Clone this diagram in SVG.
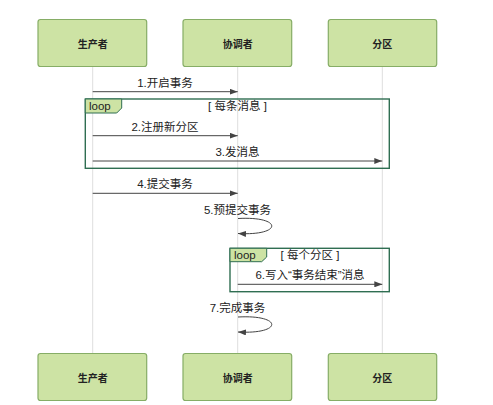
<svg xmlns="http://www.w3.org/2000/svg" width="493" height="405" viewBox="0 0 493 405">
<style>
.box{fill:#cde3a4;stroke:#86ad66;stroke-width:1.2}
.bl{font-family:"Noto Sans CJK SC","Noto Sans",sans-serif;font-size:10px;font-weight:bold;fill:#222;text-anchor:middle;dominant-baseline:central}
.life{stroke:#dedede;stroke-width:1;fill:none}
.msg{stroke:#444;stroke-width:1;fill:none}
.ml{font-family:"Liberation Sans","Noto Sans CJK SC",sans-serif;font-size:11.5px;fill:#222;text-anchor:middle;dominant-baseline:central}
.frame{fill:none;stroke:#2f6e52;stroke-width:1.4}
.tab{fill:#cde3a4;stroke:#2f6e52;stroke-width:1}
.lp{font-family:"Liberation Sans",Arial,sans-serif;font-size:11.5px;fill:#222;dominant-baseline:central}
</style>
<defs>
<marker id="ah" viewBox="0 0 8 6" refX="8" refY="3" markerWidth="8" markerHeight="6" markerUnits="userSpaceOnUse" orient="auto">
<path d="M0,0 L8,3 L0,6 Z" fill="#444"/>
</marker>
</defs>
<rect width="493" height="405" fill="#fff"/>
<g id="lifelines">
<line class="life" x1="92.7" y1="67" x2="92.7" y2="353"/>
<line class="life" x1="237.7" y1="67" x2="237.7" y2="353"/>
<line class="life" x1="382.3" y1="67" x2="382.3" y2="353"/>
</g>
<g id="loop1">
<rect class="frame" x="85.3" y="99" width="304" height="69.3"/>
<path class="tab" d="M85.3,99 H121.7 V108 L116.7,113 H85.3 Z"/>
<text class="lp" x="89" y="105.5">loop</text>
<text class="ml" x="237.5" y="106">[ 每条消息 ]</text>
</g>
<g id="loop2">
<rect class="frame" x="230" y="248.3" width="159.3" height="43.4"/>
<path class="tab" d="M230,248.3 H266.7 V257 L261.7,261.7 H230 Z"/>
<text class="lp" x="234" y="254.8">loop</text>
<text class="ml" x="310" y="255">[ 每个分区 ]</text>
</g>
<g id="connectors">
<line class="msg" x1="92.7" y1="91.7" x2="237.7" y2="91.7" marker-end="url(#ah)"/>
<text class="ml" x="165" y="82.5">1.开启事务</text>
<line class="msg" x1="92.7" y1="135.7" x2="237.7" y2="135.7" marker-end="url(#ah)"/>
<text class="ml" x="165" y="126.5">2.注册新分区</text>
<line class="msg" x1="92.7" y1="161" x2="382.3" y2="161" marker-end="url(#ah)"/>
<text class="ml" x="237.5" y="152">3.发消息</text>
<line class="msg" x1="92.7" y1="193.3" x2="237.7" y2="193.3" marker-end="url(#ah)"/>
<text class="ml" x="165" y="184">4.提交事务</text>
<path class="msg" d="M238,218.5 C283,216 283,236 238,233.5" marker-end="url(#ah)"/>
<text class="ml" x="237.5" y="209.5">5.预提交事务</text>
<line class="msg" x1="237.7" y1="284.3" x2="382.3" y2="284.3" marker-end="url(#ah)"/>
<text class="ml" x="310" y="275">6.写入“事务结束”消息</text>
<path class="msg" d="M238,317 C283,314.5 283,334.5 238,332" marker-end="url(#ah)"/>
<text class="ml" x="237.5" y="308">7.完成事务</text>
</g>
<g id="producer-top"><rect class="box" x="38" y="19.5" width="108.7" height="47" rx="2.5"/><text class="bl" x="92.7" y="43">生产者</text></g>
<g id="coordinator-top"><rect class="box" x="183" y="19.5" width="108.7" height="47" rx="2.5"/><text class="bl" x="237.7" y="43">协调者</text></g>
<g id="partition-top"><rect class="box" x="328.3" y="19.5" width="108.4" height="47" rx="2.5"/><text class="bl" x="382.3" y="43">分区</text></g>
<g id="producer-bottom"><rect class="box" x="38" y="353.5" width="108.7" height="47" rx="2.5"/><text class="bl" x="92.7" y="377">生产者</text></g>
<g id="coordinator-bottom"><rect class="box" x="183" y="353.5" width="108.7" height="47" rx="2.5"/><text class="bl" x="237.7" y="377">协调者</text></g>
<g id="partition-bottom"><rect class="box" x="328.3" y="353.5" width="108.4" height="47" rx="2.5"/><text class="bl" x="382.3" y="377">分区</text></g>
</svg>
